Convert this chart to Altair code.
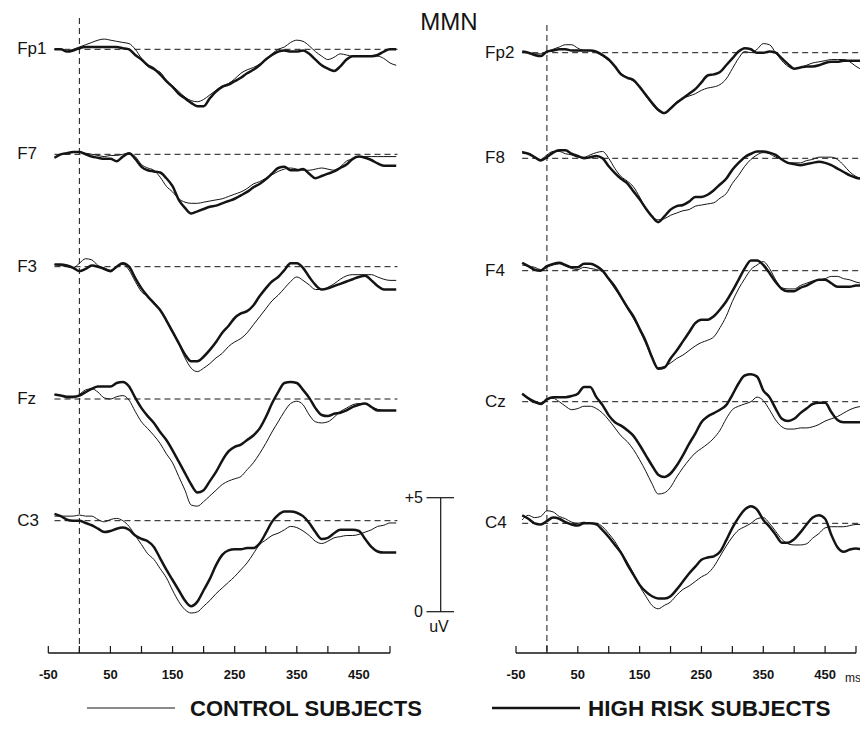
import altair as alt
import pandas as pd

# ---------------- data ----------------
TIME_MS = list(range(-40, 520, 10))  # -40 ... 510 ms

LEFT_CHANNELS = ["Fp1", "F7", "F3", "Fz", "C3"]
RIGHT_CHANNELS = ["Fp2", "F8", "F4", "Cz", "C4"]

# amplitudes in uV (positive up), control = thin line, high risk = thick line
fp1_control = [0, 0, -0.1, 0, 0.1, 0.2, 0.3, 0.4, 0.45, 0.4, 0.35, 0.3, 0.25,
               0, -0.4, -0.75, -0.9, -1.0, -1.35, -1.6, -1.85, -2.1, -2.25, -2.3, -2.2,
               -2.0, -1.8, -1.6, -1.5, -1.3, -1.05, -0.9, -0.8, -0.65, -0.45,
               -0.2, 0, 0.1, 0.3, 0.4, 0.35, 0.15, -0.1, -0.3, -0.45,
               -0.35, -0.2, -0.25, -0.3, -0.3, -0.3, -0.3, -0.3, -0.4, -0.6, -0.7]
fp1_high = [0, 0, -0.1, -0.05, 0.05, 0.1, 0.1, 0.1, 0.1, 0.1, 0.1, 0.05, 0,
            -0.25, -0.45, -0.7, -0.85, -1.1, -1.4, -1.65, -1.95, -2.15, -2.35, -2.5, -2.5,
            -2.15, -1.85, -1.65, -1.55, -1.4, -1.25, -1.05, -0.9, -0.7, -0.45,
            -0.25, -0.1, -0.05, -0.1, -0.1, -0.05, -0.2, -0.45, -0.7, -0.85,
            -0.95, -0.75, -0.45, -0.3, -0.3, -0.3, -0.3, -0.25, -0.1, 0, 0]

f7_control = [-0.15, 0, 0.05, 0.1, 0.1, 0.05, 0, -0.05, -0.1, -0.05, -0.05, 0, 0.05,
              -0.1, -0.45, -0.6, -0.7, -1.0, -1.4, -1.65, -1.95, -2.1, -2.15, -2.15, -2.1,
              -2.05, -2.0, -1.95, -1.85, -1.75, -1.65, -1.5, -1.3, -1.2, -1.05,
              -0.9, -0.75, -0.65, -0.6, -0.65, -0.7, -0.7, -0.65, -0.6, -0.65,
              -0.7, -0.55, -0.3, -0.2, -0.1, -0.1, -0.1, -0.1, -0.1, -0.1, -0.1]
f7_high = [-0.15, 0, 0.05, 0.1, 0.1, 0, -0.1, -0.15, -0.2, -0.2, -0.3, -0.1, 0.05,
           -0.2, -0.55, -0.7, -0.75, -0.8, -1.05, -1.4, -2.0, -2.35, -2.6, -2.5, -2.4,
           -2.3, -2.25, -2.15, -2.05, -1.95, -1.8, -1.65, -1.45, -1.3, -1.1,
           -0.85, -0.6, -0.55, -0.7, -0.7, -0.65, -0.85, -1.05, -0.95, -0.85,
           -0.75, -0.6, -0.45, -0.2, -0.1, -0.15, -0.25, -0.4, -0.5, -0.5, -0.5]

f3_control = [0.1, 0.05, 0, -0.05, 0.15, 0.35, 0.3, 0.05, -0.05, -0.15, 0, 0.1, -0.15,
              -0.65, -1.1, -1.3, -1.55, -1.9, -2.4, -2.9, -3.4, -4.0, -4.45, -4.6, -4.45,
              -4.25, -4.0, -3.8, -3.5, -3.3, -3.15, -2.9, -2.55, -2.2, -1.85,
              -1.5, -1.25, -0.95, -0.65, -0.45, -0.6, -0.8, -1.0, -1.0, -0.9,
              -0.75, -0.55, -0.4, -0.35, -0.35, -0.35, -0.35, -0.45, -0.55, -0.6, -0.6]
f3_high = [0.1, 0.1, 0.05, -0.05, -0.2, -0.1, 0.05, 0, -0.1, -0.2, 0, 0.15, 0,
           -0.5, -0.95, -1.3, -1.6, -1.9, -2.35, -2.85, -3.35, -3.85, -4.15, -4.15, -3.95,
           -3.65, -3.3, -2.9, -2.6, -2.25, -2.05, -1.95, -1.7, -1.3, -0.95,
           -0.65, -0.45, -0.15, 0.15, 0.15, -0.05, -0.45, -0.8, -1.0, -0.95,
           -0.85, -0.75, -0.65, -0.55, -0.45, -0.4, -0.6, -0.85, -1.0, -1.0, -1.0]

fz_control = [0.2, 0.15, 0.05, 0.05, 0.2, 0.4, 0.45, 0.3, 0.05, 0, 0.1, 0.15, -0.05,
              -0.55, -1.0, -1.3, -1.6, -1.95, -2.4, -2.8, -3.4, -4.0, -4.65, -4.7, -4.5,
              -4.25, -4.0, -3.75, -3.6, -3.5, -3.4, -3.1, -2.8, -2.4, -1.95,
              -1.45, -1.0, -0.55, -0.2, -0.1, -0.25, -0.7, -1.0, -1.05, -1.0,
              -0.8, -0.55, -0.4, -0.25, -0.2, -0.2, -0.35, -0.45, -0.5, -0.5, -0.5]
fz_high = [0.2, 0.15, 0.1, 0.1, 0.15, 0.3, 0.45, 0.55, 0.55, 0.55, 0.7, 0.75, 0.55,
           0.05, -0.4, -0.75, -1.05, -1.45, -1.8, -2.25, -2.75, -3.25, -3.75, -4.1, -4.0,
           -3.6, -3.2, -2.7, -2.3, -2.1, -2.0, -1.8, -1.6, -1.3, -0.8,
           -0.2, 0.3, 0.7, 0.75, 0.7, 0.4, 0.05, -0.4, -0.7, -0.75,
           -0.65, -0.6, -0.5, -0.35, -0.25, -0.2, -0.35, -0.5, -0.5, -0.5, -0.5]

c3_control = [0.2, 0.2, 0.2, 0.2, 0.25, 0.2, 0.2, 0.05, -0.05, 0.05, 0.1, 0, -0.25,
              -0.65, -1.05, -1.45, -1.7, -2.1, -2.5, -3.05, -3.55, -3.9, -4.05, -4.0, -3.75,
              -3.5, -3.2, -2.95, -2.7, -2.45, -2.15, -1.85, -1.45, -1.05, -0.85,
              -0.65, -0.55, -0.4, -0.25, -0.3, -0.45, -0.65, -0.9, -1.0, -0.9,
              -0.75, -0.7, -0.65, -0.65, -0.6, -0.5, -0.4, -0.25, -0.2, -0.1, -0.1]
c3_high = [0.3, 0.2, 0.05, 0, 0, -0.1, -0.2, -0.35, -0.5, -0.45, -0.35, -0.3, -0.4,
           -0.65, -0.8, -0.9, -1.15, -1.65, -2.15, -2.6, -3.05, -3.5, -3.75, -3.55, -3.05,
           -2.55, -1.95, -1.5, -1.3, -1.25, -1.25, -1.2, -1.2, -1.0, -0.55,
           -0.05, 0.25, 0.4, 0.4, 0.35, 0.2, -0.1, -0.5, -0.8, -0.75,
           -0.55, -0.4, -0.4, -0.4, -0.45, -0.8, -1.15, -1.35, -1.4, -1.4, -1.4]

fp2_control = [0, 0, -0.05, -0.05, 0.05, 0.15, 0.25, 0.35, 0.35, 0.2, 0.1, 0.1, 0,
               -0.15, -0.35, -0.6, -0.9, -1.1, -1.25, -1.5, -1.9, -2.25, -2.55, -2.65, -2.4,
               -2.15, -2.0, -1.9, -1.8, -1.65, -1.55, -1.5, -1.4, -1.15, -0.7,
               -0.25, 0.05, 0, 0.15, 0.4, 0.35, 0, -0.35, -0.6, -0.7,
               -0.65, -0.55, -0.45, -0.4, -0.35, -0.3, -0.3, -0.3, -0.4, -0.6, -0.75]
fp2_high = [0.05, 0, -0.1, -0.15, 0.05, 0.1, 0.15, 0.15, 0.1, 0.1, 0.1, 0.1, 0.05,
            -0.1, -0.3, -0.6, -0.95, -1.1, -1.2, -1.5, -1.85, -2.2, -2.5, -2.65, -2.45,
            -2.2, -2.0, -1.8, -1.6, -1.3, -1.0, -0.95, -0.85, -0.55, -0.25,
            0.05, 0.2, 0.15, 0, 0, 0.05, 0, -0.25, -0.5, -0.7,
            -0.65, -0.6, -0.6, -0.55, -0.45, -0.4, -0.4, -0.35, -0.35, -0.35, -0.35]

f8_control = [0.3, 0.2, 0.05, -0.05, 0.15, 0.3, 0.3, 0.2, 0.15, 0.05, 0.05, 0.15, 0.25,
              0.3, 0, -0.45, -0.8, -1.0, -1.25, -1.7, -2.2, -2.55, -2.7, -2.65, -2.5,
              -2.4, -2.3, -2.25, -2.1, -2.05, -2.0, -1.95, -1.75, -1.55, -1.1,
              -0.75, -0.35, -0.05, 0.15, 0.25, 0.2, 0.05, -0.05, -0.2, -0.2,
              -0.2, -0.1, -0.05, 0.05, 0.05, 0.05, -0.05, -0.3, -0.6, -0.8, -0.9]
f8_high = [0.25, 0.2, 0.05, -0.1, 0.05, 0.25, 0.35, 0.35, 0.2, 0.1, 0, 0.05, 0.1,
           0, -0.35, -0.65, -0.9, -1.1, -1.45, -1.8, -2.2, -2.55, -2.8, -2.55, -2.25,
           -2.1, -2.05, -1.9, -1.7, -1.7, -1.6, -1.4, -1.15, -0.9, -0.5,
           -0.2, 0.05, 0.2, 0.3, 0.3, 0.25, 0.15, -0.05, -0.2, -0.25,
           -0.3, -0.25, -0.2, -0.15, -0.2, -0.3, -0.45, -0.6, -0.75, -0.85, -0.9]

f4_control = [0.25, 0.2, 0.15, 0.05, 0.15, 0.25, 0.3, 0.2, 0.1, 0.05, 0.15, 0.1, 0.05,
              -0.05, -0.4, -0.8, -1.2, -1.65, -2.1, -2.6, -3.2, -3.8, -4.25, -4.2, -4.05,
              -3.85, -3.7, -3.5, -3.3, -3.15, -3.05, -2.9, -2.5, -2.0, -1.35,
              -0.8, -0.35, 0.05, 0.25, 0.4, 0.1, -0.4, -0.75, -0.8, -0.8,
              -0.65, -0.55, -0.45, -0.4, -0.35, -0.25, -0.25, -0.35, -0.4, -0.5, -0.55]
f4_high = [0.35, 0.2, 0.05, 0, 0.2, 0.3, 0.35, 0.25, 0.15, 0.15, 0.3, 0.3, 0.2,
           0, -0.35, -0.7, -1.15, -1.6, -2.0, -2.55, -3.1, -3.8, -4.3, -4.25, -3.85,
           -3.5, -3.1, -2.7, -2.3, -2.15, -2.15, -2.0, -1.7, -1.35, -0.9,
           -0.4, 0.1, 0.45, 0.45, 0.25, -0.1, -0.5, -0.8, -0.9, -0.9,
           -0.75, -0.65, -0.5, -0.4, -0.4, -0.55, -0.7, -0.7, -0.7, -0.65, -0.65]

cz_control = [0.35, 0.1, -0.05, -0.05, 0.1, 0.15, 0, -0.2, -0.35, -0.3, -0.2, -0.2, -0.3,
              -0.5, -0.8, -1.15, -1.5, -1.75, -2.1, -2.55, -3.05, -3.6, -4.05, -4.0, -3.75,
              -3.3, -2.9, -2.55, -2.25, -2.05, -1.85, -1.6, -1.25, -0.75, -0.35,
              -0.2, -0.1, 0, 0.2, 0.05, -0.35, -0.8, -1.1, -1.2, -1.2,
              -1.15, -1.15, -1.1, -1.0, -0.85, -0.75, -0.65, -0.5, -0.35, -0.25, -0.2]
cz_high = [0.35, 0.15, 0, -0.1, 0.1, 0.2, 0.2, 0.2, 0.25, 0.35, 0.65, 0.65, 0.2,
           -0.15, -0.6, -0.9, -1.05, -1.25, -1.5, -1.9, -2.35, -2.8, -3.2, -3.3, -3.15,
           -2.8, -2.35, -1.85, -1.4, -0.9, -0.65, -0.5, -0.35, -0.15, 0.3,
           0.8, 1.15, 1.2, 1.1, 0.5, 0.2, -0.3, -0.75, -0.85, -0.75,
           -0.5, -0.3, -0.1, -0.05, -0.05, -0.45, -0.8, -0.9, -0.9, -0.9, -0.9]

c4_control = [0.15, 0.35, 0.25, 0.3, 0.55, 0.5, 0.3, 0.2, 0.05, 0, 0.05, 0, 0,
              -0.15, -0.45, -0.8, -1.25, -1.7, -2.2, -2.75, -3.2, -3.6, -3.75, -3.6, -3.45,
              -3.15, -2.9, -2.75, -2.55, -2.35, -2.2, -1.9, -1.45, -1.0, -0.6,
              -0.3, -0.15, 0, 0.2, 0.25, 0, -0.35, -0.7, -0.9, -0.95,
              -0.95, -0.9, -0.65, -0.45, -0.2, -0.15, -0.15, -0.15, -0.1, -0.05, -0.05]
c4_high = [0.35, 0.2, 0, -0.05, 0.1, 0.25, 0.2, 0.05, -0.05, -0.1, 0, 0, -0.05,
           -0.3, -0.6, -0.95, -1.3, -1.8, -2.25, -2.7, -3.0, -3.2, -3.3, -3.3, -3.2,
           -2.9, -2.55, -2.2, -1.9, -1.6, -1.5, -1.45, -1.25, -0.75, -0.2,
           0.25, 0.6, 0.75, 0.6, 0.15, -0.15, -0.5, -0.85, -0.85, -0.7,
           -0.4, -0.05, 0.25, 0.35, 0.2, -0.5, -1.05, -1.25, -1.15, -1.1, -1.15]

X_TICK_VALUES = list(range(-50, 550, 50))
X_LABEL_VALUES = [-50, 50, 150, 250, 350, 450]
X_LABEL_TEXT = ["-50", "50", "150", "250", "350", "450"]
SCALE_BAR_UV = [0, 5]
GROUPS = ["Control subjects", "High risk subjects"]

LEFT_CONTROL = [fp1_control, f7_control, f3_control, fz_control, c3_control]
LEFT_HIGH = [fp1_high, f7_high, f3_high, fz_high, c3_high]
RIGHT_CONTROL = [fp2_control, f8_control, f4_control, cz_control, c4_control]
RIGHT_HIGH = [fp2_high, f8_high, f4_high, cz_high, c4_high]

for s in LEFT_CONTROL + LEFT_HIGH + RIGHT_CONTROL + RIGHT_HIGH:
    assert len(s) == len(TIME_MS), len(s)

# ---------------- layout ----------------
FONT = "Liberation Sans, Arial, Helvetica, sans-serif"
INK = "#141414"
PLOT_W, PLOT_H = 852, 645
PX_PER_UV = 22.8
Y_DOMAIN = [-PLOT_H / PX_PER_UV, 0]
LEFT_BASE_PX = [41.3, 146.3, 258.7, 391.0, 512.7]
RIGHT_BASE_PX = [44.7, 150.3, 262.7, 393.7, 515.3]
LEFT_RANGE = [40.3, 382.0]
RIGHT_RANGE = [508.0, 848.0]
SCALE_BAR_BASE_PX = 603.7

ys = alt.Scale(domain=Y_DOMAIN, nice=False, zero=False)


def to_pos(px):
    return -px / PX_PER_UV


def panel(channels, controls, highs, base_px, x_range, zero_top):
    rows = []
    for ch, cs, hs, bp in zip(channels, controls, highs, base_px):
        off = to_pos(bp)
        for t, vc, vh in zip(TIME_MS, cs, hs):
            rows.append({"ms": t, "channel": ch, "group": GROUPS[0], "uv": vc, "pos": vc + off})
            rows.append({"ms": t, "channel": ch, "group": GROUPS[1], "uv": vh, "pos": vh + off})
    lines_df = pd.DataFrame(rows)
    base_df = pd.DataFrame({
        "channel": channels,
        "pos": [to_pos(b) for b in base_px],
        "start": -40, "end": 512, "label_x": -100,
    })
    xs = alt.Scale(domain=[-50, 500], range=x_range, nice=False, zero=False)
    X = lambda f: alt.X(f, scale=xs, axis=None)

    baseline = alt.Chart(base_df).mark_rule(strokeDash=[6, 4], color=INK, strokeWidth=1).encode(
        x=X("start:Q"), x2="end:Q", y=alt.Y("pos:Q", scale=ys, axis=None))
    zero_line = alt.Chart(pd.DataFrame({"ms": [0]})).mark_rule(
        strokeDash=[6, 4], color=INK, strokeWidth=1).encode(
        x=X("ms:Q"), y=alt.value(zero_top), y2=alt.value(PLOT_H))
    domain = alt.Chart(pd.DataFrame({"a": [X_TICK_VALUES[0]], "b": [X_TICK_VALUES[-1]]})).mark_rule(
        color=INK, strokeWidth=1.3).encode(x=X("a:Q"), x2="b:Q", y=alt.value(PLOT_H))
    ticks = alt.Chart(pd.DataFrame({"ms": X_TICK_VALUES})).mark_rule(
        color=INK, strokeWidth=1.2).encode(
        x=X("ms:Q"), y=alt.value(PLOT_H - 7), y2=alt.value(PLOT_H))
    tick_labels = alt.Chart(pd.DataFrame({"ms": X_LABEL_VALUES, "label": X_LABEL_TEXT})).mark_text(
        align="center", baseline="middle", font=FONT, fontSize=13, fontWeight="bold",
        color=INK).encode(x=X("ms:Q"), y=alt.value(PLOT_H + 22), text="label:N")
    ctrl = alt.Chart(lines_df).transform_filter(alt.datum.group == GROUPS[0]).mark_line(
        interpolate="monotone", strokeWidth=1, color=INK).encode(
        x=X("ms:Q"), y=alt.Y("pos:Q", scale=ys, axis=None), detail="channel:N")
    high = alt.Chart(lines_df).transform_filter(alt.datum.group == GROUPS[1]).mark_line(
        interpolate="monotone", strokeWidth=2.5, color=INK).encode(
        x=X("ms:Q"), y=alt.Y("pos:Q", scale=ys, axis=None), detail="channel:N")
    labels = alt.Chart(base_df).mark_text(
        align="left", baseline="middle", font=FONT, fontSize=17, color=INK).encode(
        x=X("label_x:Q"), y=alt.Y("pos:Q", scale=ys, axis=None), text="channel:N")
    return alt.layer(baseline, zero_line, domain, ticks, tick_labels, ctrl, high, labels)


left = panel(LEFT_CHANNELS, LEFT_CONTROL, LEFT_HIGH, LEFT_BASE_PX, LEFT_RANGE, 10)
right = panel(RIGHT_CHANNELS, RIGHT_CONTROL, RIGHT_HIGH, RIGHT_BASE_PX, RIGHT_RANGE, 17)

# ---------------- annotations ----------------
bar_base = to_pos(SCALE_BAR_BASE_PX)
bar_df = pd.DataFrame({"lo": [bar_base + SCALE_BAR_UV[0]], "hi": [bar_base + SCALE_BAR_UV[1]]})
bar_ticks_df = pd.DataFrame({"pos": [bar_base + v for v in SCALE_BAR_UV],
                             "label": ["0", "+5"]})

bar = alt.Chart(bar_df).mark_rule(color=INK, strokeWidth=1.2).encode(
    x=alt.value(432.7), y=alt.Y("lo:Q", scale=ys, axis=None), y2="hi:Q")
bar_ticks = alt.Chart(bar_ticks_df).mark_rule(color=INK, strokeWidth=1.2).encode(
    x=alt.value(418.5), x2=alt.value(446), y=alt.Y("pos:Q", scale=ys, axis=None))
bar_text = alt.Chart(bar_ticks_df).mark_text(
    align="right", baseline="middle", font=FONT, fontSize=16, color=INK, dx=-2).encode(
    x=alt.value(417), y=alt.Y("pos:Q", scale=ys, axis=None), text="label:N")
uv_text = alt.Chart(pd.DataFrame({"t": ["uV"]})).mark_text(
    align="center", baseline="middle", font=FONT, fontSize=16, color=INK).encode(
    x=alt.value(431), y=alt.value(619), text="t:N")

title = alt.Chart(pd.DataFrame({"t": ["MMN"]})).mark_text(
    align="center", baseline="alphabetic", font=FONT, fontSize=24, color=INK).encode(
    x=alt.value(441), y=alt.value(22), text="t:N")
ms_text = alt.Chart(pd.DataFrame({"t": ["ms"]})).mark_text(
    align="left", baseline="middle", font=FONT, fontSize=12, color=INK).encode(
    x=alt.value(837), y=alt.value(670), text="t:N")

LEG_Y = 700
leg_ctrl_line = alt.Chart(pd.DataFrame({"g": [GROUPS[0]]})).mark_rule(
    color=INK, strokeWidth=1).encode(x=alt.value(79), x2=alt.value(167), y=alt.value(LEG_Y))
leg_high_line = alt.Chart(pd.DataFrame({"g": [GROUPS[1]]})).mark_rule(
    color=INK, strokeWidth=2.6).encode(x=alt.value(484), x2=alt.value(572), y=alt.value(LEG_Y))
leg_ctrl_text = alt.Chart(pd.DataFrame({"t": ["CONTROL SUBJECTS"]})).mark_text(
    align="left", baseline="alphabetic", font=FONT, fontSize=22, fontWeight="bold", color=INK).encode(
    x=alt.value(182), y=alt.value(708), text="t:N")
leg_high_text = alt.Chart(pd.DataFrame({"t": ["HIGH RISK SUBJECTS"]})).mark_text(
    align="left", baseline="alphabetic", font=FONT, fontSize=22.5, fontWeight="bold", color=INK).encode(
    x=alt.value(580), y=alt.value(708), text="t:N")

ann = alt.layer(bar, bar_ticks, bar_text, uv_text, title, ms_text,
                leg_ctrl_line, leg_high_line, leg_ctrl_text, leg_high_text)

chart = alt.layer(left, right, ann).resolve_scale(x="independent").properties(
    width=PLOT_W, height=PLOT_H,
    autosize=alt.AutoSizeParams(type="none"),
    padding={"left": 0, "top": 0, "right": 0, "bottom": 68},
    background="white",
).configure_view(stroke=None)

chart.save("out.html", embed_options={"renderer": "svg", "actions": False})
